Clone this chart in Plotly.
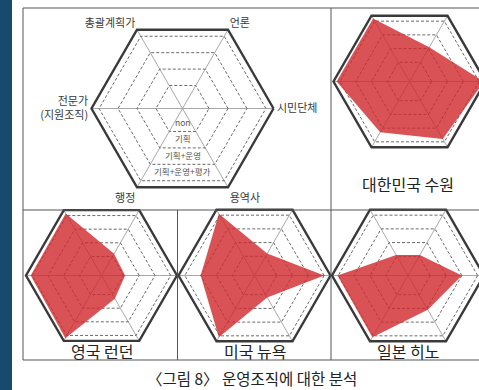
import plotly.graph_objects as go

# ---------------- data ----------------
categories = ["시민단체", "언론", "총괄계획가", "전문가<br>(지원조직)", "행정", "용역사"]
level_values = [1, 2, 3, 4]
level_labels = ["non", "기획", "기획+운영", "기획+운영+평가"]
cities = ["대한민국 수원", "영국 런던", "미국 뉴욕", "일본 히노"]
suwon = [4.3, 2.1, 4.2, 4.2, 3.3, 3.8]
london = [1.1, 1.2, 4.15, 4.1, 4.2, 1.3]
newyork = [4.0, 1.2, 4.1, 3.0, 4.1, 1.2]
hino = [3.0, 1.1, 1.1, 4.05, 4.1, 2.1]
caption = "〈그림 8〉 운영조직에 대한 분석"

# ---------------- layout geometry (pixels) ----------------
W, H = 490, 390          # page is clipped to 479 px by the window
R_MIN, R_MAX = -0.4, 4.4
FONT = "Noto Sans CJK KR"

def px_x(x):
    return x / W

def px_y(y):
    return 1 - y / H

def domain(cx, cy, R):
    return dict(x=[max(0, px_x(cx - R)), min(1, px_x(cx + R))],
                y=[max(0, px_y(cy + R)), min(1, px_y(cy - R))])

def polar_cfg(cx, cy, R, show_labels=False):
    return dict(
        domain=domain(cx, cy, R),
        gridshape="linear",
        bgcolor="rgba(0,0,0,0)",
        radialaxis=dict(range=[R_MIN, R_MAX], tickvals=level_values,
                        showticklabels=False, ticks="", showline=False,
                        gridcolor="#6a6a6a", griddash="3px,2px", gridwidth=1.1),
        angularaxis=dict(type="category", categoryorder="array",
                         categoryarray=categories, rotation=0,
                         direction="counterclockwise", showline=True,
                         linecolor="#3a3a3a", linewidth=2.4,
                         gridcolor="#a8a8a8", gridwidth=1, ticks="",
                         showticklabels=show_labels,
                         tickfont=dict(family=FONT, size=11, color="#3a3a3a")),
    )

# panel centres / radii
LEG = (182.5, 108.5, 91)
SUW = (409.5, 81.5, 76)
LON = (101.5, 275.5, 75.5)
NYC = (254.5, 275.5, 76)
HIN = (408.0, 275.5, 76)

fig = go.Figure()

# legend radar (grid only) -> empty trace to instantiate the axes
fig.add_trace(go.Scatterpolar(r=[None] * len(categories), theta=categories,
                              mode="lines", showlegend=False, subplot="polar",
                              hoverinfo="skip"))

series = [suwon, london, newyork, hino]
subplots = ["polar2", "polar3", "polar4", "polar5"]
for vals, sp, name in zip(series, subplots, cities):
    fig.add_trace(go.Scatterpolar(
        r=vals + vals[:1], theta=categories + categories[:1],
        fill="toself", fillcolor="rgba(208,40,44,0.80)",
        mode="lines", line=dict(width=0, color="rgba(208,40,44,0.8)"),
        name=name, showlegend=False, subplot=sp))

fig.update_layout(
    width=W, height=H,
    margin=dict(l=0, r=0, t=0, b=0),
    paper_bgcolor="white",
    showlegend=False,
    polar=polar_cfg(*LEG, show_labels=True),
    polar2=polar_cfg(*SUW),
    polar3=polar_cfg(*LON),
    polar4=polar_cfg(*NYC),
    polar5=polar_cfg(*HIN),
)

# ---------------- frame / decorations ----------------
shapes = []
shapes.append(dict(type="rect", xref="paper", yref="paper", x0=0, x1=px_x(12),
                   y0=0, y1=1, fillcolor="#174a6b", line=dict(width=0), layer="below"))
frame_col = "#555555"
def hline(x0, x1, y):
    shapes.append(dict(type="line", xref="paper", yref="paper", x0=px_x(x0), x1=px_x(x1),
                       y0=px_y(y), y1=px_y(y), line=dict(color=frame_col, width=1)))
def vline(x, y0, y1):
    shapes.append(dict(type="line", xref="paper", yref="paper", x0=px_x(x), x1=px_x(x),
                       y0=px_y(y0), y1=px_y(y1), line=dict(color=frame_col, width=1)))
hline(23, W, 8)
hline(23, W, 210)
hline(23, W, 360)
vline(23, 8, 360)
vline(331, 8, 360)
vline(177.5, 210, 360)
fig.update_layout(shapes=shapes)

# ---------------- text ----------------
ann = []
cx, cy, R = LEG
for k, lab in zip(level_values, level_labels):
    r_px = (k - R_MIN) / (R_MAX - R_MIN) * R
    ann.append(dict(x=px_x(cx), y=px_y(cy + 0.866 * r_px - 1.5), xref="paper", yref="paper",
                    text=lab, showarrow=False, xanchor="center", yanchor="bottom",
                    font=dict(family=FONT, size=8.5, color="#555555")))

title_pos = [(407.5, 183.5), (101.5, 351), (254.5, 351), (407.5, 351)]
for name, (tx, ty) in zip(cities, title_pos):
    ann.append(dict(x=px_x(tx), y=px_y(ty), xref="paper", yref="paper", text=name,
                    showarrow=False, xanchor="center", yanchor="middle",
                    font=dict(family=FONT, size=16, color="#222222")))

ann.append(dict(x=px_x(252.5), y=px_y(377.5), xref="paper", yref="paper", text=caption,
                showarrow=False, xanchor="center", yanchor="middle",
                font=dict(family=FONT, size=15.5, color="#222222")))
fig.update_layout(annotations=ann)

fig.write_html(
    "out.html",
    config={"displayModeBar": False},
    post_script="document.body.style.margin='0';document.body.style.overflow='hidden';",
)
